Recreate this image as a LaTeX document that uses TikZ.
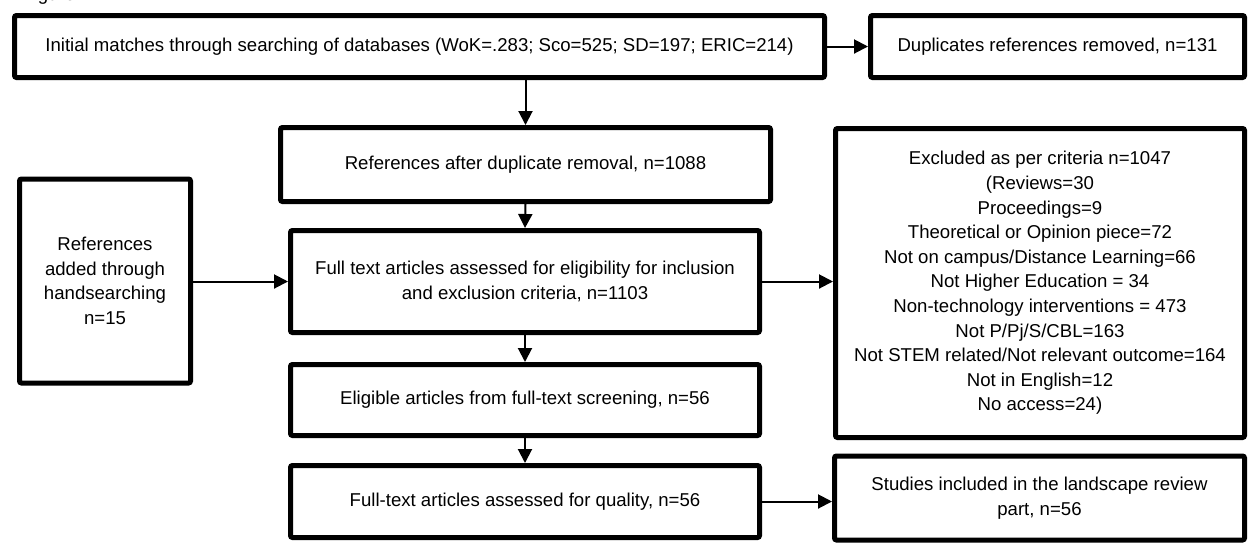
\documentclass[tikz,border=0pt]{standalone}
\usepackage{fontspec}
\setmainfont{Liberation Sans}
\usetikzlibrary{arrows.meta,calc}
\tikzset{
  box/.style={draw=black, line width=2.5pt, rounded corners=1pt, fill=white,
    align=center, inner sep=0pt, font=\fontsize{9.3}{12.3}\selectfont},
  conn/.style={line width=1pt, -{Triangle[length=7pt,width=7pt]}},
}
\begin{document}
\begin{tikzpicture}[x=0.5pt,y=-0.5pt]
\useasboundingbox (0,0) rectangle (1250,543);
\clip (0,0) rectangle (1250,543);
\node[anchor=base west, inner sep=0pt, font=\fontsize{9.3}{12.3}\selectfont] (fig) at (22,0) {Figure};
\node[box, minimum width=405pt, minimum height=31pt] (b1) at (419.5,46.5)
  {Initial matches through searching of databases (WoK=.283; Sco=525; SD=197; ERIC=214)};
\node[box, minimum width=187pt, minimum height=31pt] (b2) at (1057.5,46.5)
  {Duplicates references removed, n=131};
\node[box, minimum width=245pt, minimum height=37pt] (b3) at (525.5,164.5)
  {References after duplicate removal, n=1088};
\node[box, minimum width=234.5pt, minimum height=51pt] (b4) at (525,281.5)
  {Full text articles assessed for eligibility for inclusion\\and exclusion criteria, n=1103};
\node[box, minimum width=234.5pt, minimum height=35.5pt] (b5) at (525,400)
  {Eligible articles from full-text screening, n=56};
\node[box, minimum width=234.5pt, minimum height=36pt] (b6) at (525,501.5)
  {Full-text articles assessed for quality, n=56};
\node[box, minimum width=85.5pt, minimum height=102pt] (b0) at (105,281)
  {References\\added through\\handsearching\\n=15};
\node[box, minimum width=204.5pt, minimum height=154.5pt] (ex) at (1040,283)
  {Excluded as per criteria n=1047\\(Reviews=30\\Proceedings=9\\Theoretical or Opinion piece=72\\Not on campus/Distance Learning=66\\Not Higher Education = 34\\Non-technology interventions = 473\\Not P/Pj/S/CBL=163\\Not STEM related/Not relevant outcome=164\\Not in English=12\\No access=24)};
\node[box, minimum width=205pt, minimum height=42pt] (fin) at (1039.5,498)
  {Studies included in the landscape review\\part, n=56};
\draw[conn] (b1.east) -- (b2.west);
\draw[conn] (b3.north |- b1.south) -- (b3.north);
\draw[conn] (b3.south) -- (b4.north);
\draw[conn] (b0.east |- b4.west) -- (b4.west);
\draw[conn] (b4.east) -- (ex.west |- b4.east);
\draw[conn] (b4.south) -- (b5.north);
\draw[conn] (b5.south) -- (b6.north);
\draw[conn] (b6.east) -- (fin.west |- b6.east);
\end{tikzpicture}
\end{document}
